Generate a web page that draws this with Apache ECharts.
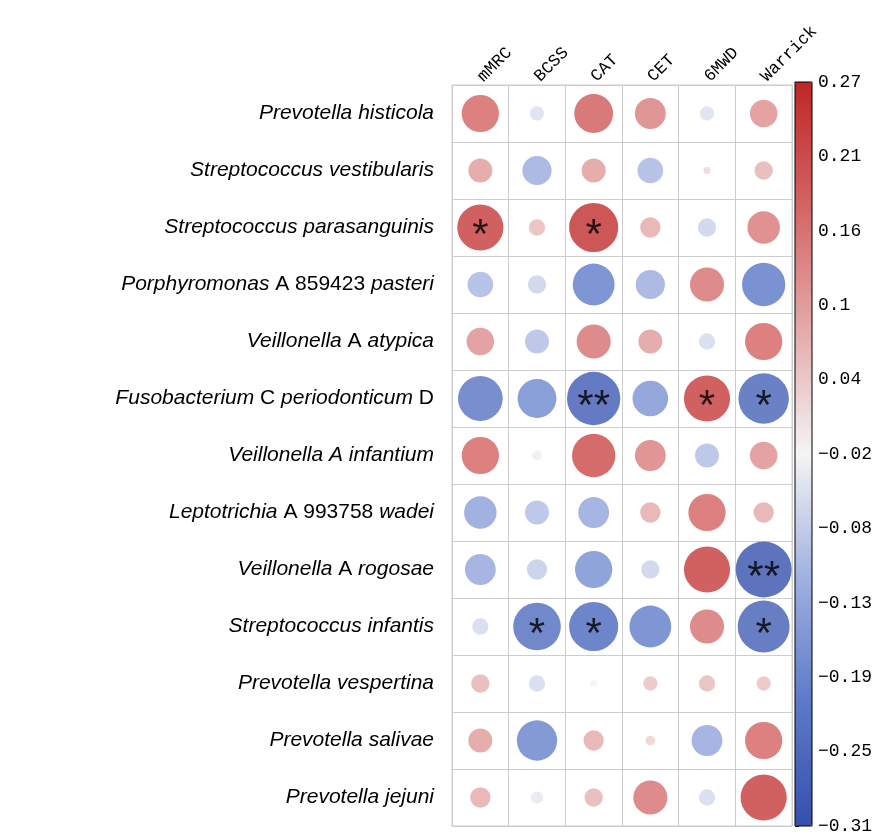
<!DOCTYPE html>
<html><head><meta charset="utf-8">
<script src="https://cdn.jsdelivr.net/npm/echarts@6/dist/echarts.min.js"></script>
<style>html,body{margin:0;background:#fff}#c{width:886px;height:835px}</style>
</head><body><div id="c"></div>
<script>
const columns = ['mMRC', 'BCSS', 'CAT', 'CET', '6MWD', 'Warrick'];
// italic (i) / upright (n) parts of each taxon name
const taxa = [
  [['i', 'Prevotella histicola']],
  [['i', 'Streptococcus vestibularis']],
  [['i', 'Streptococcus parasanguinis']],
  [['i', 'Porphyromonas'], ['n', ' A 859423 '], ['i', 'pasteri']],
  [['i', 'Veillonella'], ['n', ' A '], ['i', 'atypica']],
  [['i', 'Fusobacterium'], ['n', ' C '], ['i', 'periodonticum'], ['n', ' D']],
  [['i', 'Veillonella A infantium']],
  [['i', 'Leptotrichia'], ['n', ' A 993758 '], ['i', 'wadei']],
  [['i', 'Veillonella'], ['n', ' A '], ['i', 'rogosae']],
  [['i', 'Streptococcus infantis']],
  [['i', 'Prevotella vespertina']],
  [['i', 'Prevotella salivae']],
  [['i', 'Prevotella jejuni']]
];
const corr = [
  [0.18, -0.05, 0.19, 0.14, -0.05, 0.12],
  [0.10, -0.13, 0.10, -0.11, 0.02, 0.07],
  [0.24, 0.06, 0.26, 0.08, -0.07, 0.15],
  [-0.11, -0.07, -0.21, -0.13, 0.16, -0.22],
  [0.12, -0.10, 0.16, 0.10, -0.06, 0.18],
  [-0.23, -0.19, -0.29, -0.17, 0.24, -0.27],
  [0.18, -0.03, 0.22, 0.14, -0.10, 0.12],
  [-0.15, -0.10, -0.14, 0.08, 0.18, 0.08],
  [-0.14, -0.08, -0.18, -0.07, 0.24, -0.31],
  [-0.06, -0.25, -0.26, -0.21, 0.16, -0.28],
  [0.07, -0.06, -0.02, 0.05, 0.06, 0.05],
  [0.10, -0.20, 0.08, 0.03, -0.14, 0.18],
  [0.08, -0.04, 0.07, 0.16, -0.06, 0.24]
];
const stars = [
  ['', '', '', '', '', ''],
  ['', '', '', '', '', ''],
  ['*', '', '*', '', '', ''],
  ['', '', '', '', '', ''],
  ['', '', '', '', '', ''],
  ['', '', '**', '', '*', '*'],
  ['', '', '', '', '', ''],
  ['', '', '', '', '', ''],
  ['', '', '', '', '', '**'],
  ['', '*', '*', '', '', '*'],
  ['', '', '', '', '', ''],
  ['', '', '', '', '', ''],
  ['', '', '', '', '', '']
];
const barTicks = ['−0.31', '−0.25', '−0.19', '−0.13', '−0.08', '−0.02', '0.04', '0.1', '0.16', '0.21', '0.27'];

const rowKeys = taxa.map((_, i) => 'r' + i);
const data = [];
corr.forEach((row, r) => row.forEach((v, c) => data.push({ value: [c, r, v], star: stars[r][c] })));

const chart = echarts.init(document.getElementById('c'));
chart.setOption({
  grid: [
    { left: 452, top: 85, width: 340, height: 741, show: true, borderColor: '#ccc', borderWidth: 1 },
    { left: 795, top: 82, width: 17, height: 744, show: true, borderColor: '#000', borderWidth: 1, z: 10 }
  ],
  xAxis: [{
    type: 'category', data: columns, position: 'top', gridIndex: 0,
    axisLine: { show: false }, axisTick: { show: false },
    splitLine: { show: true, interval: 0, lineStyle: { color: '#ccc' } },
    axisLabel: { rotate: -45, fontFamily: 'Liberation Mono', fontSize: 17, color: '#000', margin: 6, interval: 0 }
  }, {
    type: 'value', gridIndex: 1, show: false
  }],
  yAxis: [{
    type: 'category', data: rowKeys, inverse: true, gridIndex: 0,
    axisLine: { show: false }, axisTick: { show: false },
    splitLine: { show: true, interval: 0, lineStyle: { color: '#ccc' } },
    axisLabel: {
      interval: 0, margin: 18,
      formatter: (val, idx) => taxa[idx].map(p => '{' + p[0] + '|' + p[1] + '}').join(''),
      rich: {
        i: { fontStyle: 'italic', fontFamily: 'Liberation Sans', fontSize: 21, color: '#000' },
        n: { fontFamily: 'Liberation Sans', fontSize: 21, color: '#000' }
      }
    }
  }, {
    type: 'value', gridIndex: 1, min: 0, max: 10, interval: 1, position: 'right',
    axisLine: { show: false }, axisTick: { show: true, length: 4, lineStyle: { color: '#000' } },
    splitLine: { show: false },
    axisLabel: { formatter: (v) => barTicks[v], fontFamily: 'Liberation Mono', fontSize: 18, color: '#000', margin: 6 }
  }],
  visualMap: {
    type: 'continuous', min: -0.31, max: 0.27, seriesIndex: 0,
    left: 795, top: 82, padding: 0, itemWidth: 17, itemHeight: 744, text: ['', ''],
    calculable: false, showLabel: false, textGap: 0,
    inRange: { color: ['#3550ad', '#5c7ac8', '#a0b0e0', '#f4f4f4', '#e4aaaa', '#d46464', '#bf2626'] }
  },
  series: [{
    type: 'scatter', xAxisIndex: 0, yAxisIndex: 0, data: data,
    symbolSize: (v) => 56 * Math.pow(Math.abs(v[2]) / 0.31, 0.75),
    label: {
      show: true, position: 'inside', color: '#000', fontSize: 42, fontFamily: 'Liberation Sans',
      offset: [0, 9],
      formatter: (p) => p.data.star
    },
    z: 3
  }]
});
</script></body></html>
